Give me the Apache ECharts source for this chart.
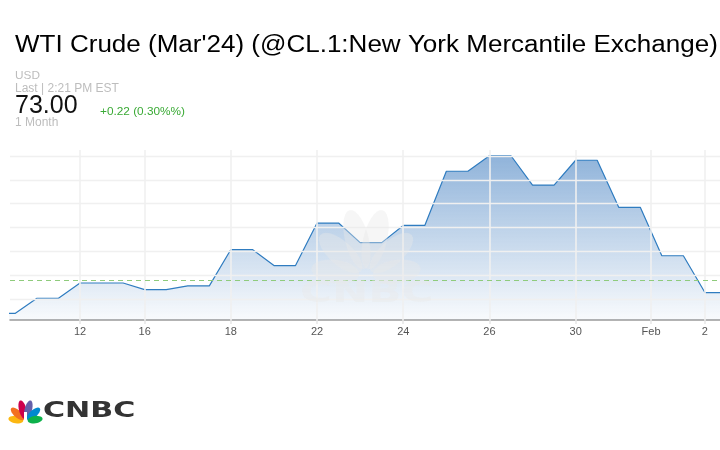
<!DOCTYPE html>
<html>
<head>
<meta charset="utf-8">
<script src="https://cdn.jsdelivr.net/npm/echarts@6/dist/echarts.min.js"></script>
<style>
html,body{margin:0;padding:0;background:#fff;}
#chart{width:720px;height:450px;}
</style>
</head>
<body>
<div id="chart"></div>
<script>
// ---- data ----
const days = ['Jan 10','Jan 11','Jan 12','Jan 16','Jan 17','Jan 18','Jan 19','Jan 22','Jan 23','Jan 24','Jan 25','Jan 26','Jan 29','Jan 30','Jan 31','Feb 1','Feb 2'];
const closes = [71.41,72.04,72.68,72.40,72.56,74.08,73.41,75.19,74.37,75.09,77.36,78.01,76.78,77.82,75.85,73.82,72.28];
// trading-time slot where each session starts, and its length in slots
const sessionSlot = [-1,1,3,6,8,10,12,14,16,18,20,22,24,26,28,30,32];
const sessionLen  = [1,1,2,1,1,1,1,1,1,1,1,1,1,1,1,1,1];
const tickLabels = ['12','16','18','22','24','26','30','Feb','2'];
const tickSlots  = [3,6,10,14,18,22,26,29.5,32];
const priceGrid = [72,73,74,75,76,77,78];
const prevClose = 72.78;

// ---- build series points ----
const linePts = [];
days.forEach((d,i)=>{
  linePts.push([sessionSlot[i], closes[i], d]);
  linePts.push([sessionSlot[i]+sessionLen[i], closes[i], d]);
});

function ellipsePoly(bx,by,angDeg,off,len,wid,n){
  const a = angDeg*Math.PI/180;
  const dx = Math.cos(a), dy = -Math.sin(a);
  const cx = bx + dx*(off+len/2), cy = by + dy*(off+len/2);
  const pts=[];
  for(let k=0;k<n;k++){
    const t = k/n*2*Math.PI;
    const u = Math.cos(t)*len/2, v = Math.sin(t)*wid/2;
    pts.push([cx + u*dx - v*dy, cy + u*dy + v*dx]);
  }
  return pts;
}
function peacock(bx,by,s,colors,z){
  const angs=[172,138,104,76,42,8];
  const lens=[15,17,19,19,17,15];
  return angs.map((ag,i)=>({
    type:'polygon', z:z, silent:true,
    shape:{points:ellipsePoly(bx,by,ag,2.2*s,lens[i]*s,7.4*s,28)},
    style:{fill:colors[i]}
  }));
}
const logoColors=['#fcb711','#f37021','#cc004c','#6460aa','#0089d0','#0db14b'];
const WM = 'rgba(232,232,232,0.4)';
const wmColors=new Array(6).fill(WM);

const chart = echarts.init(document.getElementById('chart'), null, {renderer:'canvas'});
const FONT = '"Liberation Sans", Arial, Helvetica, sans-serif';

chart.setOption({
  animation:false,
  grid:{left:10,right:0,top:150,bottom:130,containLabel:false},
  xAxis:{
    type:'value', min:-0.25, max:32.7,
    axisLine:{show:true,lineStyle:{color:'#9a9a9a',width:1.5}},
    axisTick:{show:true,customValues:tickSlots,length:4,lineStyle:{color:'#e6e6e6',width:1.5}},
    axisLabel:{show:true,customValues:tickSlots,color:'#555',fontSize:11,fontFamily:FONT,margin:6,
      formatter:(v)=>{const i=tickSlots.indexOf(v);return i>=0?tickLabels[i]:'';}},
    splitLine:{show:false}
  },
  yAxis:{type:'value',min:71.13,max:78.25,show:false,splitLine:{show:false}},
  graphic:[
    {type:'text',x:15,y:46,scaleX:1.117,style:{text:"WTI Crude (Mar'24) (@CL.1:New York Mercantile Exchange)",font:'23.3px '+FONT,fill:'#000',verticalAlign:'middle'}},
    {type:'text',x:15,y:76,style:{text:'USD',font:'11.8px '+FONT,fill:'#bdbdbd',verticalAlign:'middle'}},
    {type:'text',x:15,y:88.5,style:{text:'Last | 2:21 PM EST',font:'12px '+FONT,fill:'#bdbdbd',verticalAlign:'middle'}},
    {type:'text',x:15,y:106.5,style:{text:'73.00',font:'25px '+FONT,fill:'#111',verticalAlign:'middle'}},
    {type:'text',x:100,y:111.5,style:{text:'+0.22 (0.30%%)',font:'11.8px '+FONT,fill:'#3aaa35',verticalAlign:'middle'}},
    {type:'text',x:15,y:123,style:{text:'1 Month',font:'12px '+FONT,fill:'#bdbdbd',verticalAlign:'middle'}},
    // watermark
    ...peacock(366,276,3.2,wmColors,20),
    {type:'text',x:300,y:294,z:20,scaleX:1.45,silent:true,style:{text:'CNBC',font:'bold 30px "DejaVu Sans", sans-serif',fill:WM,verticalAlign:'middle'}},
    // logo
    ...peacock(25.5,421,1.0,logoColors,10),
    {type:'rect',z:11,silent:true,shape:{x:24,y:412,width:3,height:9},style:{fill:'#fff'}},
    {type:'text',x:43,y:412,z:10,scaleX:1.47,style:{text:'CNBC',font:'bold 20.5px "DejaVu Sans", sans-serif',fill:'#333',verticalAlign:'middle'}}
  ],
  series:[
    {
      name:'grid', type:'line', data:[], z:1, silent:true,
      markLine:{silent:true,symbol:['none','none'],label:{show:false},animation:false,
        data:[
          ...priceGrid.map(v=>({yAxis:v,lineStyle:{color:'#f0f0f0',width:1.3,type:'solid'}})),
          ...tickSlots.map(v=>({xAxis:v,lineStyle:{color:'#f0f0f0',width:1.6,type:'solid'}}))
        ]}
    },
    {
      name:'WTI', type:'line', data:linePts, z:3, symbol:'none', showSymbol:false,
      lineStyle:{color:'#2f7cc0',width:1.2},
      areaStyle:{opacity:1,color:{type:'linear',x:0,y:0,x2:0,y2:1,colorStops:[
        {offset:0,color:'rgba(45,112,185,0.53)'},
        {offset:1,color:'rgba(45,112,185,0.03)'}]}},
      markLine:{silent:true,symbol:['none','none'],label:{show:false},
        data:[{yAxis:prevClose}],lineStyle:{color:'#8fcb7c',type:[5,4],width:1}}
    }
  ]
});
</script>
</body>
</html>
